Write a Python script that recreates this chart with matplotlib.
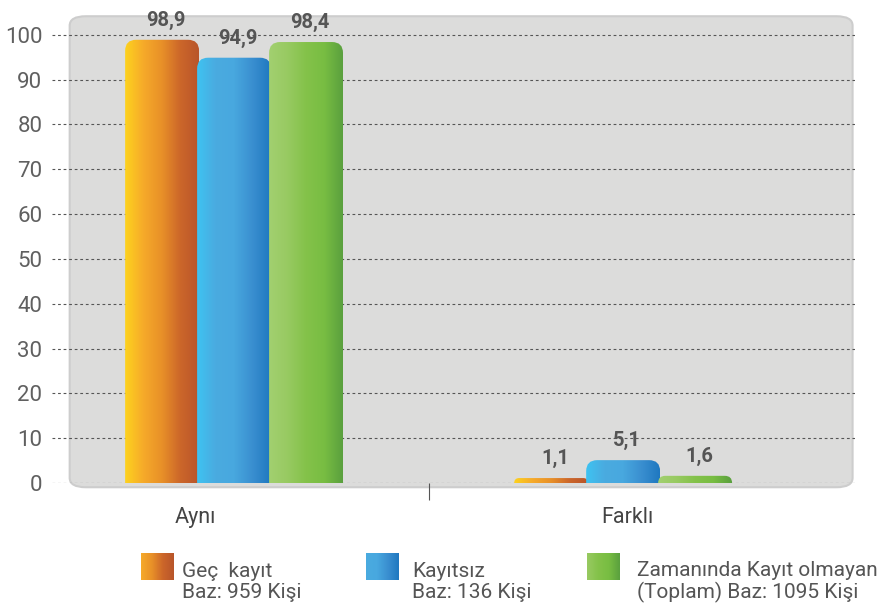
import numpy as np
import matplotlib
matplotlib.use("Agg")
import matplotlib.pyplot as plt
from matplotlib.colors import LinearSegmentedColormap
from matplotlib.patches import FancyBboxPatch, PathPatch
from matplotlib.path import Path

# veriler
kategoriler = ["Aynı", "Farklı"]
seriler = ["Geç  kayıt\nBaz: 959 Kişi",
           "Kayıtsız\nBaz: 136 Kişi",
           "Zamanında Kayıt olmayan\n(Toplam) Baz: 1095 Kişi"]
gec_kayit = [98.9, 1.1]
kayitsiz = [94.9, 5.1]
zamaninda = [98.4, 1.6]
y_ticks = [0, 10, 20, 30, 40, 50, 60, 70, 80, 90, 100]

# renk geçişleri (soldan sağa)
renkler = [
    ["#fdd21e", "#f6aa2a", "#e89028", "#cc662a", "#b8552a"],
    ["#3ec3f2", "#4aabe0", "#48a8df", "#3a8fd0", "#1f78c0"],
    ["#a2d070", "#98ca62", "#84c24a", "#78bd42", "#5aa03e"],
]

plt.rcParams['font.family'] = ['Roboto', 'DejaVu Sans']


# sadece üst köşeleri yuvarlak çubuk
def ust_yuvarlak(x0, w, h, rx, ry):
    ry = min(ry, h)
    x1 = x0 + w
    verts = [(x0, 0), (x0, h - ry), (x0, h), (x0 + rx, h),
             (x1 - rx, h), (x1, h), (x1, h - ry), (x1, 0), (x0, 0)]
    codes = [Path.MOVETO, Path.LINETO, Path.CURVE3, Path.CURVE3,
             Path.LINETO, Path.CURVE3, Path.CURVE3, Path.LINETO, Path.CLOSEPOLY]
    return Path(verts, codes)


fig = plt.figure(figsize=(8.9, 6.08), dpi=100)
fig.patch.set_facecolor("white")
ax = fig.add_axes([52 / 890, 125 / 608, 803 / 890, (483 - 12) / 608])
ax.set_facecolor("none")

xlim = (-0.468, 1.596)
ylim = (0, 105.1)

# gri panel
panel = FancyBboxPatch((0.022, -0.009), 0.975, 1.0, transform=ax.transAxes,
                       boxstyle="round,pad=0,rounding_size=0.02",
                       facecolor="#dcdcdb", edgecolor="#cdcdcd", lw=1.5,
                       zorder=0, clip_on=False)
ax.add_patch(panel)

for t in y_ticks:
    ax.axhline(t, color="#555555", lw=0.8, ls=(0, (2.5, 2.5)), zorder=1)

x = np.arange(len(kategoriler))
w = 0.19
off = 0.185
px_x = 389.0   # piksel / birim (x)
px_y = 4.48    # piksel / birim (y)
degerler = [gec_kayit, kayitsiz, zamaninda]

for i, vals in enumerate(degerler):
    cmap = LinearSegmentedColormap.from_list("g%d" % i, renkler[i])
    grad = np.linspace(0, 1, 256).reshape(1, -1)
    for j, v in enumerate(vals):
        x0 = x[j] + (i - 1) * off - w / 2
        r_px = min(11.0, v * px_y)
        bar = PathPatch(ust_yuvarlak(x0, w, v, r_px / px_x, r_px / px_y),
                        facecolor="none", edgecolor="none", zorder=2 + i)
        ax.add_patch(bar)
        im = ax.imshow(grad, cmap=cmap, extent=[x0, x0 + w, 0, v],
                       aspect="auto", zorder=2 + i, interpolation="bilinear")
        im.set_clip_path(bar)
        ax.text(x[j] + (i - 1) * off + 0.01, v + 2.2,
                ("%.1f" % v).replace(".", ","), ha="center", va="bottom",
                fontsize=14.5, fontweight="bold", color="#555555", zorder=10)

ax.set_xlim(*xlim)
ax.set_ylim(*ylim)
for s in ax.spines.values():
    s.set_visible(False)
ax.set_yticks(y_ticks)
ax.set_yticklabels([str(t) for t in y_ticks], fontsize=16, color="#606060")
ax.tick_params(axis="y", length=0, pad=7)
ax.set_xticks([0.5])
ax.set_xticklabels([""])
ax.tick_params(axis="x", length=12, width=0.8, color="#555555")

# kategori etiketleri
etiket_x = [x[0] - 0.1, x[1] + 0.01]
for ex, k in zip(etiket_x, kategoriler):
    ax.text(ex, -7.6, k, ha="center", va="center", fontsize=15.5,
            color="#444444")

# lejant
kare_x = [141, 366, 587]
metin_x = [182, 412, 637]
for i, s in enumerate(seriler):
    cmap = LinearSegmentedColormap.from_list("l%d" % i, renkler[i][1:])
    lax = fig.add_axes([kare_x[i] / 890, (608 - 580) / 608, 33 / 890, 27 / 608])
    lax.imshow(np.linspace(0, 1, 128).reshape(1, -1), cmap=cmap,
               aspect="auto", interpolation="bilinear")
    lax.axis("off")
    fig.text(metin_x[i] / 890, (608 - 582) / 608, s, ha="left",
             va="center", fontsize=15, color="#555555", linespacing=1.08)

fig.savefig("out.png", dpi=100)
